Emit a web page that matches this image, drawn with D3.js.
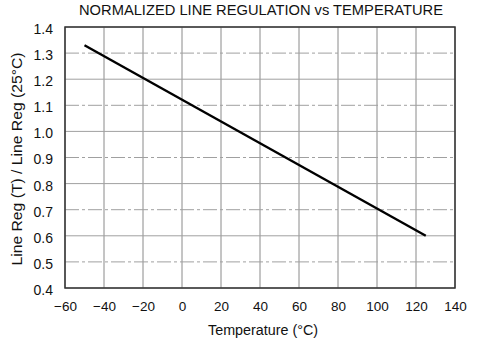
<!DOCTYPE html>
<html><head><meta charset="utf-8">
<script src="https://cdn.jsdelivr.net/npm/d3@7"></script>
<style>body{margin:0;background:#fff}svg{display:block}text{font-family:"Liberation Sans",Arial,sans-serif;fill:#111}</style>
</head><body><svg id="c" width="481" height="342"></svg>
<script>
const title = "NORMALIZED LINE REGULATION vs TEMPERATURE";
const xLabel = "Temperature (°C)";
const yLabel = "Line Reg (T) / Line Reg (25°C)";
const temps = [-50, 125];
const lineReg = [1.33, 0.60];
const xTicks = [-60,-40,-20,0,20,40,60,80,100,120,140];
const yTicks = [0.4,0.5,0.6,0.7,0.8,0.9,1.0,1.1,1.2,1.3,1.4];

const svg = d3.select("#c");
const m = {l:65, r:455, t:27, b:288};
const x = d3.scaleLinear().domain([-60,140]).range([m.l, m.r]);
const y = d3.scaleLinear().domain([0.4,1.4]).range([m.b, m.t]);

// grid
svg.append("g").selectAll("line").data(xTicks).join("line")
  .attr("x1", d=>x(d)).attr("x2", d=>x(d)).attr("y1", m.t).attr("y2", m.b)
  .attr("stroke", "#8a8a8a").attr("stroke-width", 1);
svg.append("g").selectAll("line").data(yTicks).join("line")
  .attr("x1", m.l).attr("x2", m.r).attr("y1", d=>y(d)).attr("y2", d=>y(d))
  .attr("stroke", "#a0a0a0").attr("stroke-width", 1)
  .attr("stroke-dasharray", (d,i)=> i%2 ? "14,3,3,3" : null);

// frame
svg.append("rect").attr("x", m.l).attr("y", m.t).attr("width", m.r-m.l).attr("height", m.b-m.t)
  .attr("fill", "none").attr("stroke", "#333").attr("stroke-width", 1.5);

// axes labels via d3 axes
const xa = svg.append("g").attr("transform", `translate(0,${m.b})`)
  .call(d3.axisBottom(x).tickValues(xTicks).tickSize(0).tickPadding(13).tickFormat(d=> d<0 ? "\u2212"+Math.abs(d) : d));
const ya = svg.append("g").attr("transform", `translate(${m.l},0)`)
  .call(d3.axisLeft(y).tickValues(yTicks).tickSize(0).tickPadding(12).tickFormat(d3.format(".1f")));
[xa, ya].forEach(a => { a.select(".domain").remove(); a.selectAll("text").attr("fill", "#111").attr("font-family", '"Liberation Sans",Arial,sans-serif'); });
xa.selectAll("text").attr("font-size", 13.5);
ya.selectAll("text").attr("font-size", 14).attr("dy", "0.46em");

// data line
const pts = temps.map((t,i)=>[t, lineReg[i]]);
svg.append("path").datum(pts)
  .attr("d", d3.line().x(d=>x(d[0])).y(d=>y(d[1])))
  .attr("fill", "none").attr("stroke", "#000").attr("stroke-width", 2.4);

// titles
svg.append("text").attr("x", 261).attr("y", 14.5).attr("text-anchor", "middle").attr("font-size", 14)
  .attr("textLength", 364).attr("lengthAdjust", "spacingAndGlyphs").text(title);
svg.append("text").attr("x", 263).attr("y", 335).attr("text-anchor", "middle").attr("font-size", 14)
  .attr("textLength", 110).attr("lengthAdjust", "spacingAndGlyphs").text(xLabel);
svg.append("text").attr("transform", `translate(22,159) rotate(-90)`).attr("text-anchor", "middle").attr("font-size", 14)
  .attr("textLength", 213).attr("lengthAdjust", "spacingAndGlyphs").text(yLabel);
</script></body></html>
